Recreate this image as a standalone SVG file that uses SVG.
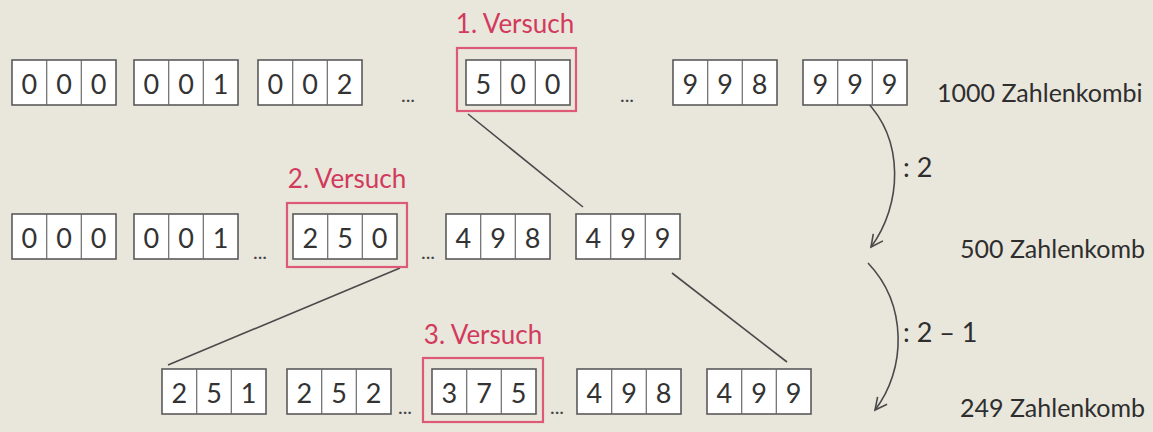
<svg xmlns="http://www.w3.org/2000/svg" width="1153" height="432" viewBox="0 0 1153 432">
<defs>
<style>
.bg{fill:#e9e6dc}
.box{fill:#fff;stroke:#5a5a5a;stroke-width:1.6}
.div{stroke:#6a6a6a;stroke-width:1.2}
.dg{font-family:Lato,"Open Sans",sans-serif;font-size:27px;fill:#333;text-anchor:middle}
.red{fill:none;stroke:#dc5a76;stroke-width:2.2}
.lbl{font-family:Lato,"Open Sans",sans-serif;font-size:26px;fill:#d23a5c;text-anchor:middle}
.txt{font-family:Lato,"Open Sans",sans-serif;font-size:27px;fill:#2e2e2e}
.side{font-family:Lato,"Open Sans",sans-serif;font-size:25px;fill:#2e2e2e}
.dots{font-family:Lato,"Open Sans",sans-serif;font-size:20px;fill:#444;text-anchor:middle}
.ln{fill:none;stroke:#4a4a4a;stroke-width:1.6}
</style>
<marker id="ah" markerWidth="16" markerHeight="16" refX="13" refY="8" orient="auto" markerUnits="userSpaceOnUse">
<path d="M1,2 L13,8 L1,14" fill="none" stroke="#4a4a4a" stroke-width="1.6"/>
</marker>
<g id="cell3">
<rect class="box" x="0" y="0" width="104" height="45"/>
<line class="div" x1="34.7" y1="0" x2="34.7" y2="45"/>
<line class="div" x1="69.3" y1="0" x2="69.3" y2="45"/>
</g>
</defs>
<rect class="bg" x="0" y="0" width="1153" height="432"/>

<g id="connectors">
<line class="ln" x1="468" y1="114" x2="583" y2="207"/>
<line class="ln" x1="400" y1="268" x2="168" y2="365"/>
<line class="ln" x1="672" y1="273" x2="787" y2="362"/>
<path class="ln" d="M865,100 C905,140 902,205 871,247" marker-end="url(#ah)"/>
<path class="ln" d="M868,263 C908,305 906,370 875,410" marker-end="url(#ah)"/>
</g>

<!-- Row 1 -->
<g id="r1-000"><use href="#cell3" x="12" y="60"/><text class="dg" y="94"><tspan x="29.3">0</tspan><tspan x="64">0</tspan><tspan x="98.7">0</tspan></text></g>
<g id="r1-001"><use href="#cell3" x="134" y="60"/><text class="dg" y="94"><tspan x="151.3">0</tspan><tspan x="186">0</tspan><tspan x="220.7">1</tspan></text></g>
<g id="r1-002"><use href="#cell3" x="258" y="60"/><text class="dg" y="94"><tspan x="275.3">0</tspan><tspan x="310">0</tspan><tspan x="344.7">2</tspan></text></g>
<text class="dots" x="408" y="102">...</text>
<g id="r1-500"><use href="#cell3" x="466" y="60"/><text class="dg" y="94"><tspan x="483.3">5</tspan><tspan x="518">0</tspan><tspan x="552.7">0</tspan></text>
<rect class="red" x="457" y="48" width="119" height="63"/>
<text class="lbl" x="515" y="33">1. Versuch</text></g>
<text class="dots" x="627" y="102">...</text>
<g id="r1-998"><use href="#cell3" x="673" y="60"/><text class="dg" y="94"><tspan x="690.3">9</tspan><tspan x="725">9</tspan><tspan x="759.7">8</tspan></text></g>
<g id="r1-999"><use href="#cell3" x="803" y="60"/><text class="dg" y="94"><tspan x="820.3">9</tspan><tspan x="855">9</tspan><tspan x="889.7">9</tspan></text></g>
<text class="side" x="937" y="102">1000 Zahlenkombi</text>

<!-- Row 2 -->
<g id="r2-000"><use href="#cell3" x="12" y="214"/><text class="dg" y="248"><tspan x="29.3">0</tspan><tspan x="64">0</tspan><tspan x="98.7">0</tspan></text></g>
<g id="r2-001"><use href="#cell3" x="134" y="214"/><text class="dg" y="248"><tspan x="151.3">0</tspan><tspan x="186">0</tspan><tspan x="220.7">1</tspan></text></g>
<text class="dots" x="260" y="259">...</text>
<g id="r2-250"><use href="#cell3" x="293" y="214"/><text class="dg" y="248"><tspan x="310.3">2</tspan><tspan x="345">5</tspan><tspan x="379.7">0</tspan></text>
<rect class="red" x="287" y="203" width="120" height="64"/>
<text class="lbl" x="347" y="188">2. Versuch</text></g>
<text class="dots" x="428" y="259">...</text>
<g id="r2-498"><use href="#cell3" x="446" y="214"/><text class="dg" y="248"><tspan x="463.3">4</tspan><tspan x="498">9</tspan><tspan x="532.7">8</tspan></text></g>
<g id="r2-499"><use href="#cell3" x="576" y="214"/><text class="dg" y="248"><tspan x="593.3">4</tspan><tspan x="628">9</tspan><tspan x="662.7">9</tspan></text></g>
<text class="txt" x="903" y="177">: 2</text>
<text class="side" x="960" y="258">500 Zahlenkomb</text>

<!-- Row 3 -->
<g id="r3-251"><use href="#cell3" x="162" y="369"/><text class="dg" y="403"><tspan x="179.3">2</tspan><tspan x="214">5</tspan><tspan x="248.7">1</tspan></text></g>
<g id="r3-252"><use href="#cell3" x="287" y="369"/><text class="dg" y="403"><tspan x="304.3">2</tspan><tspan x="339">5</tspan><tspan x="373.7">2</tspan></text></g>
<text class="dots" x="405" y="414">...</text>
<g id="r3-375"><use href="#cell3" x="432" y="369"/><text class="dg" y="403"><tspan x="449.3">3</tspan><tspan x="484">7</tspan><tspan x="518.7">5</tspan></text>
<rect class="red" x="423" y="358" width="120" height="64"/>
<text class="lbl" x="483" y="344">3. Versuch</text></g>
<text class="dots" x="557" y="414">...</text>
<g id="r3-498"><use href="#cell3" x="577" y="369"/><text class="dg" y="403"><tspan x="594.3">4</tspan><tspan x="629">9</tspan><tspan x="663.7">8</tspan></text></g>
<g id="r3-499"><use href="#cell3" x="707" y="369"/><text class="dg" y="403"><tspan x="724.3">4</tspan><tspan x="759">9</tspan><tspan x="793.7">9</tspan></text></g>
<text class="txt" x="903" y="342">: 2 – 1</text>
<text class="side" x="960" y="417">249 Zahlenkomb</text>
</svg>
